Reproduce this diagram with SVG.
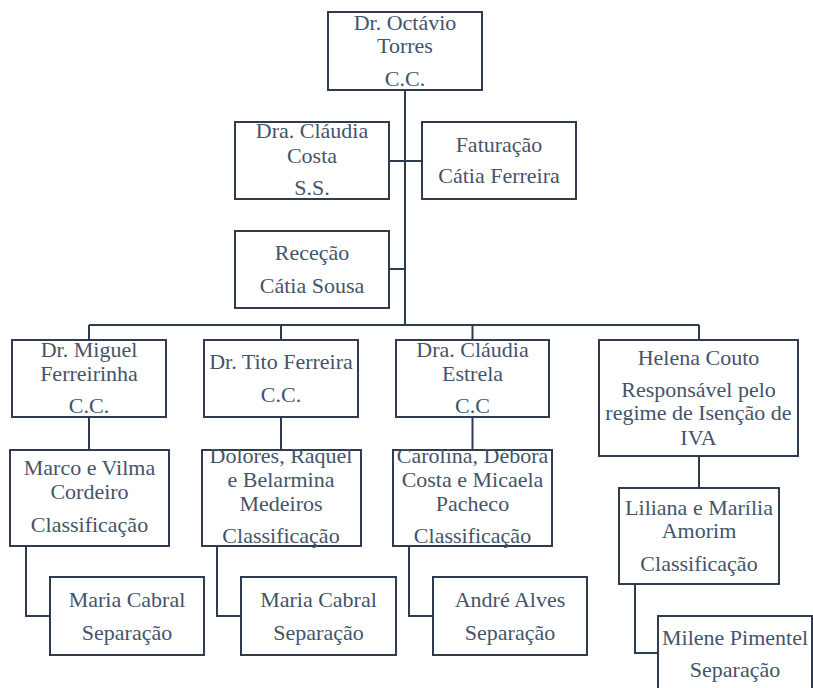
<svg xmlns="http://www.w3.org/2000/svg" width="813" height="688" viewBox="0 0 813 688" font-family="Liberation Serif, Times New Roman, serif">
<style>
.box{fill:#ffffff;stroke:#2f3c50;stroke-width:2}
.ln{fill:none;stroke:#2f3c50;stroke-width:2}
.t{font-size:22px;fill:#44546a;text-anchor:middle}
</style>
<rect width="813" height="688" fill="#ffffff"/>
<g id="connectors">
<path class="ln" d="M405,90 V325"/>
<path class="ln" d="M389,161 H422"/>
<path class="ln" d="M389,269 H405"/>
<path class="ln" d="M89,325 H699"/>
<path class="ln" d="M89,325 V340 M281,325 V340 M472.5,325 V340 M699,325 V340"/>
<path class="ln" d="M89,417 V450"/>
<path class="ln" d="M281,417 V450"/>
<path class="ln" d="M472.5,417 V450"/>
<path class="ln" d="M699,456 V488"/>
<path class="ln" d="M26,546 V616 H50"/>
<path class="ln" d="M217,546 V616 H241"/>
<path class="ln" d="M409,546 V616 H433"/>
<path class="ln" d="M635,584 V653 H658"/>
</g>
<g class="t" font-family="Liberation Serif, Times New Roman, serif">
<g id="octavio"><rect class="box" x="328" y="12" width="154" height="78"/><text x="405" y="30">Dr. Octávio</text><text x="405" y="53">Torres</text><text x="405" y="86">C.C.</text></g>
<g id="claudia-costa"><rect class="box" x="235" y="122" width="154" height="77"/><text x="312" y="138">Dra. Cláudia</text><text x="312" y="163">Costa</text><text x="312" y="195">S.S.</text></g>
<g id="faturacao"><rect class="box" x="422" y="122" width="154" height="77"/><text x="499" y="152">Faturação</text><text x="499" y="183">Cátia Ferreira</text></g>
<g id="rececao"><rect class="box" x="235" y="231" width="154" height="77"/><text x="312" y="260">Receção</text><text x="312" y="293">Cátia Sousa</text></g>
<g id="miguel"><rect class="box" x="12" y="340" width="154" height="77"/><text x="89" y="357">Dr. Miguel</text><text x="89" y="381">Ferreirinha</text><text x="89" y="413">C.C.</text></g>
<g id="tito"><rect class="box" x="204" y="340" width="154" height="77"/><text x="281" y="369">Dr. Tito Ferreira</text><text x="281" y="402">C.C.</text></g>
<g id="claudia-estrela"><rect class="box" x="396" y="340" width="153" height="77"/><text x="472.5" y="357">Dra. Cláudia</text><text x="472.5" y="381">Estrela</text><text x="472.5" y="413">C.C</text></g>
<g id="helena"><rect class="box" x="599" y="340" width="199" height="116"/><text x="698.5" y="365">Helena Couto</text><text x="698.5" y="397">Responsável pelo</text><text x="698.5" y="420">regime de Isenção de</text><text x="698.5" y="445">IVA</text></g>
<g id="marco"><rect class="box" x="10" y="450" width="159" height="96"/><text x="89.5" y="475">Marco e Vilma</text><text x="89.5" y="499">Cordeiro</text><text x="89.5" y="532">Classificação</text></g>
<g id="dolores"><rect class="box" x="202" y="450" width="159" height="96"/><text x="281" y="463">Dolores, Raquel</text><text x="281" y="487">e Belarmina</text><text x="281" y="511">Medeiros</text><text x="281" y="543">Classificação</text></g>
<g id="carolina"><rect class="box" x="393" y="450" width="159" height="96"/><text x="472.5" y="463">Carolina, Débora</text><text x="472.5" y="487">Costa e Micaela</text><text x="472.5" y="511">Pacheco</text><text x="472.5" y="543">Classificação</text></g>
<g id="liliana"><rect class="box" x="619" y="488" width="160" height="96"/><text x="699" y="515">Liliana e Marília</text><text x="699" y="538">Amorim</text><text x="699" y="571">Classificação</text></g>
<g id="maria1"><rect class="box" x="50" y="577" width="154" height="78"/><text x="127" y="607">Maria Cabral</text><text x="127" y="640">Separação</text></g>
<g id="maria2"><rect class="box" x="241" y="577" width="155" height="78"/><text x="318.5" y="607">Maria Cabral</text><text x="318.5" y="640">Separação</text></g>
<g id="andre"><rect class="box" x="433" y="577" width="154" height="78"/><text x="510" y="607">André Alves</text><text x="510" y="640">Separação</text></g>
<g id="milene"><rect class="box" x="658" y="616" width="154" height="80"/><text x="735" y="645">Milene Pimentel</text><text x="735" y="677">Separação</text></g>
</g>
</svg>
